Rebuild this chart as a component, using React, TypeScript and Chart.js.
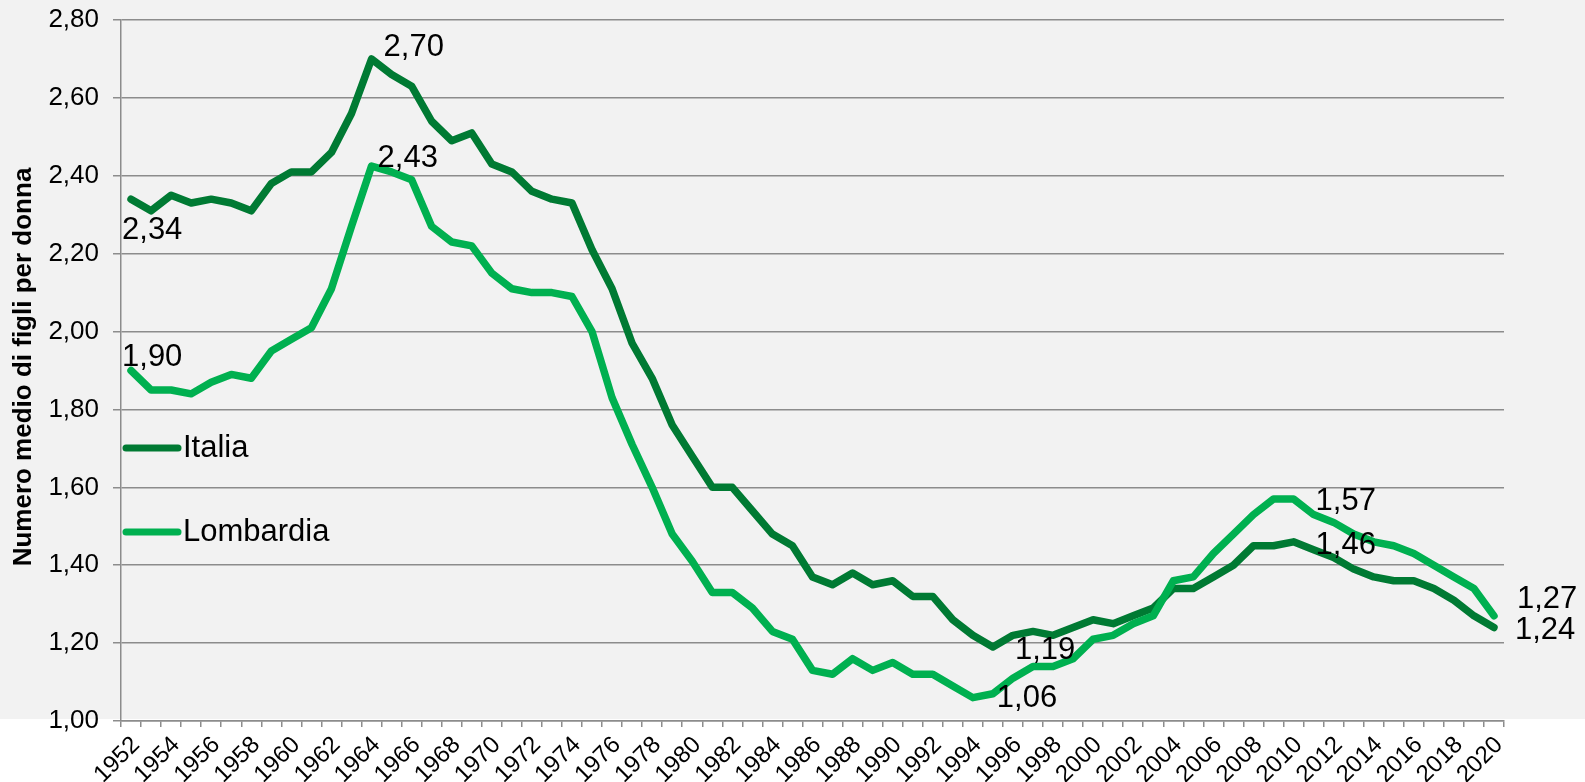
import React, { useEffect, useRef } from 'react';
import { Chart, registerables } from 'chart.js';

Chart.register(...registerables);

// ---------- DATA ----------
const years: string[] = [
  '1952', '1953', '1954', '1955', '1956', '1957', '1958', '1959', '1960', '1961',
  '1962', '1963', '1964', '1965', '1966', '1967', '1968', '1969', '1970', '1971',
  '1972', '1973', '1974', '1975', '1976', '1977', '1978', '1979', '1980', '1981',
  '1982', '1983', '1984', '1985', '1986', '1987', '1988', '1989', '1990', '1991',
  '1992', '1993', '1994', '1995', '1996', '1997', '1998', '1999', '2000', '2001',
  '2002', '2003', '2004', '2005', '2006', '2007', '2008', '2009', '2010', '2011',
  '2012', '2013', '2014', '2015', '2016', '2017', '2018', '2019', '2020',
];

const italia: number[] = [
  2.34, 2.31, 2.35, 2.33, 2.34, 2.33, 2.31, 2.38, 2.41, 2.41,
  2.46, 2.56, 2.70, 2.66, 2.63, 2.54, 2.49, 2.51, 2.43, 2.41,
  2.36, 2.34, 2.33, 2.21, 2.11, 1.97, 1.88, 1.76, 1.68, 1.60,
  1.60, 1.54, 1.48, 1.45, 1.37, 1.35, 1.38, 1.35, 1.36, 1.32,
  1.32, 1.26, 1.22, 1.19, 1.22, 1.23, 1.22, 1.24, 1.26, 1.25,
  1.27, 1.29, 1.34, 1.34, 1.37, 1.40, 1.45, 1.45, 1.46, 1.44,
  1.42, 1.39, 1.37, 1.36, 1.36, 1.34, 1.31, 1.27, 1.24,
];

const lombardia: number[] = [
  1.90, 1.85, 1.85, 1.84, 1.87, 1.89, 1.88, 1.95, 1.98, 2.01,
  2.11, 2.27, 2.425, 2.41, 2.39, 2.27, 2.23, 2.22, 2.15, 2.11,
  2.10, 2.10, 2.09, 2.00, 1.83, 1.71, 1.60, 1.48, 1.41, 1.33,
  1.33, 1.29, 1.23, 1.21, 1.13, 1.12, 1.16, 1.13, 1.15, 1.12,
  1.12, 1.09, 1.06, 1.07, 1.11, 1.14, 1.14, 1.16, 1.21, 1.22,
  1.25, 1.27, 1.36, 1.37, 1.43, 1.48, 1.53, 1.57, 1.57, 1.53,
  1.51, 1.48, 1.46, 1.45, 1.43, 1.40, 1.37, 1.34, 1.27,
];

const seriesNames: string[] = ['Italia', 'Lombardia'];
const yAxisTitle = 'Numero medio di figli per donna';

// annotated points: series index, year, text
const annotSeries: number[] = [0, 1, 0, 1, 0, 1, 1, 0, 1, 0];
const annotYears: string[] = ['1952', '1952', '1964', '1964', '1995', '1994', '2010', '2010', '2020', '2020'];
const annotTexts: string[] = ['2,34', '1,90', '2,70', '2,43', '1,19', '1,06', '1,57', '1,46', '1,27', '1,24'];

// ---------- STYLE ----------
const DARK = '#007A33';
const LIGHT = '#00B050';
const GRID = '#8C8C8C';
const FONT = "'Liberation Sans', Arial, sans-serif";
// label offsets relative to the point (left edge, vertical middle)
const annotOffsets: [number, number][] = [
  [-9, 31], [-9, -13], [12, -11], [6, -8], [22, 3],
  [24, 1], [22, 2], [22, 4], [23, -16], [21, 3],
];

const bgPlugin = {
  id: 'bgPlugin',
  beforeDraw(chart: any) {
    const { ctx, width, height, chartArea } = chart;
    ctx.save();
    ctx.fillStyle = '#FFFFFF';
    ctx.fillRect(0, 0, width, height);
    ctx.fillStyle = '#F2F2F2';
    ctx.fillRect(0, 0, width, chartArea.bottom - 2);
    ctx.restore();
  },
};

const overlayPlugin = {
  id: 'overlayPlugin',
  afterDatasetsDraw(chart: any) {
    const ctx = chart.ctx;
    ctx.save();
    ctx.font = `31px ${FONT}`;
    ctx.fillStyle = '#000';
    ctx.textAlign = 'left';
    ctx.textBaseline = 'middle';
    annotTexts.forEach((t, i) => {
      const meta = chart.getDatasetMeta(annotSeries[i]);
      const idx = years.indexOf(annotYears[i]);
      const el = meta.data[idx];
      if (!el) return;
      ctx.fillText(t, el.x + annotOffsets[i][0], el.y + annotOffsets[i][1]);
    });
    ctx.restore();
  },
  afterDraw(chart: any) {
    const ctx = chart.ctx;
    const ca = chart.chartArea;
    // legend
    const colors = [DARK, LIGHT];
    const legendY = [448, 532];
    ctx.save();
    seriesNames.forEach((name, i) => {
      ctx.strokeStyle = colors[i];
      ctx.lineWidth = 7;
      ctx.lineCap = 'round';
      ctx.beginPath();
      ctx.moveTo(ca.left + 5, legendY[i]);
      ctx.lineTo(ca.left + 57, legendY[i]);
      ctx.stroke();
      ctx.fillStyle = '#000';
      ctx.font = `31px ${FONT}`;
      ctx.textAlign = 'left';
      ctx.textBaseline = 'middle';
      ctx.fillText(name, ca.left + 62, legendY[i]);
    });
    // y axis title
    ctx.translate(31, 367);
    ctx.rotate(-Math.PI / 2);
    ctx.font = `bold 26px ${FONT}`;
    ctx.fillStyle = '#000';
    ctx.textAlign = 'center';
    ctx.textBaseline = 'alphabetic';
    ctx.fillText(yAxisTitle, 0, 0);
    ctx.restore();
  },
};

export default function App() {
  const ref = useRef<HTMLCanvasElement>(null);

  useEffect(() => {
    document.body.style.margin = '0';
    const canvas = ref.current;
    if (!canvas) return;
    const chart = new Chart(canvas, {
      type: 'line',
      data: {
        labels: years,
        datasets: [
          {
            label: seriesNames[0],
            data: italia,
            borderColor: DARK,
            backgroundColor: DARK,
            order: 1,
          },
          {
            label: seriesNames[1],
            data: lombardia,
            borderColor: LIGHT,
            backgroundColor: LIGHT,
            order: 0,
          },
        ],
      },
      options: {
        responsive: false,
        animation: false,
        devicePixelRatio: 1,
        layout: { padding: { top: 20, right: 81, left: 0, bottom: 0 } },
        plugins: {
          legend: { display: false },
          tooltip: { enabled: false },
          title: { display: false },
        },
        elements: {
          point: { radius: 0, hoverRadius: 0 },
          line: {
            tension: 0,
            borderWidth: 7.5,
            borderCapStyle: 'round',
            borderJoinStyle: 'round',
            fill: false,
          },
        },
        scales: {
          x: {
            type: 'category',
            offset: true,
            grid: {
              display: true,
              drawOnChartArea: false,
              drawTicks: true,
              tickLength: 6,
              color: GRID,
              lineWidth: 1.5,
              offset: true,
            },
            border: { display: true, color: GRID, width: 1.5 },
            ticks: {
              autoSkip: false,
              maxRotation: 45,
              minRotation: 45,
              padding: 4,
              labelOffset: 5,
              color: '#000',
              font: { family: FONT, size: 24 },
              callback: (_v: any, i: number) => (i % 2 === 0 ? years[i] : ''),
            },
            afterFit: (s: any) => {
              s.height = 61;
              s.paddingLeft = 0;
              s.paddingRight = 0;
            },
          },
          y: {
            min: 1,
            max: 2.8,
            ticks: {
              stepSize: 0.2,
              padding: 14,
              color: '#000',
              font: { family: FONT, size: 26 },
              callback: (v: any) => Number(v).toFixed(2).replace('.', ','),
            },
            grid: {
              color: GRID,
              lineWidth: 1.5,
              tickLength: 8,
              drawTicks: true,
            },
            border: { display: true, color: GRID, width: 1.5 },
            afterFit: (s: any) => {
              s.width = 121;
              s.paddingTop = 0;
              s.paddingBottom = 0;
            },
          },
        },
      } as any,
      plugins: [bgPlugin, overlayPlugin],
    });
    return () => chart.destroy();
  }, []);

  return (
    <div style={{ width: 1585, height: 782 }}>
      <canvas ref={ref} width={1585} height={782} style={{ display: 'block' }} />
    </div>
  );
}
